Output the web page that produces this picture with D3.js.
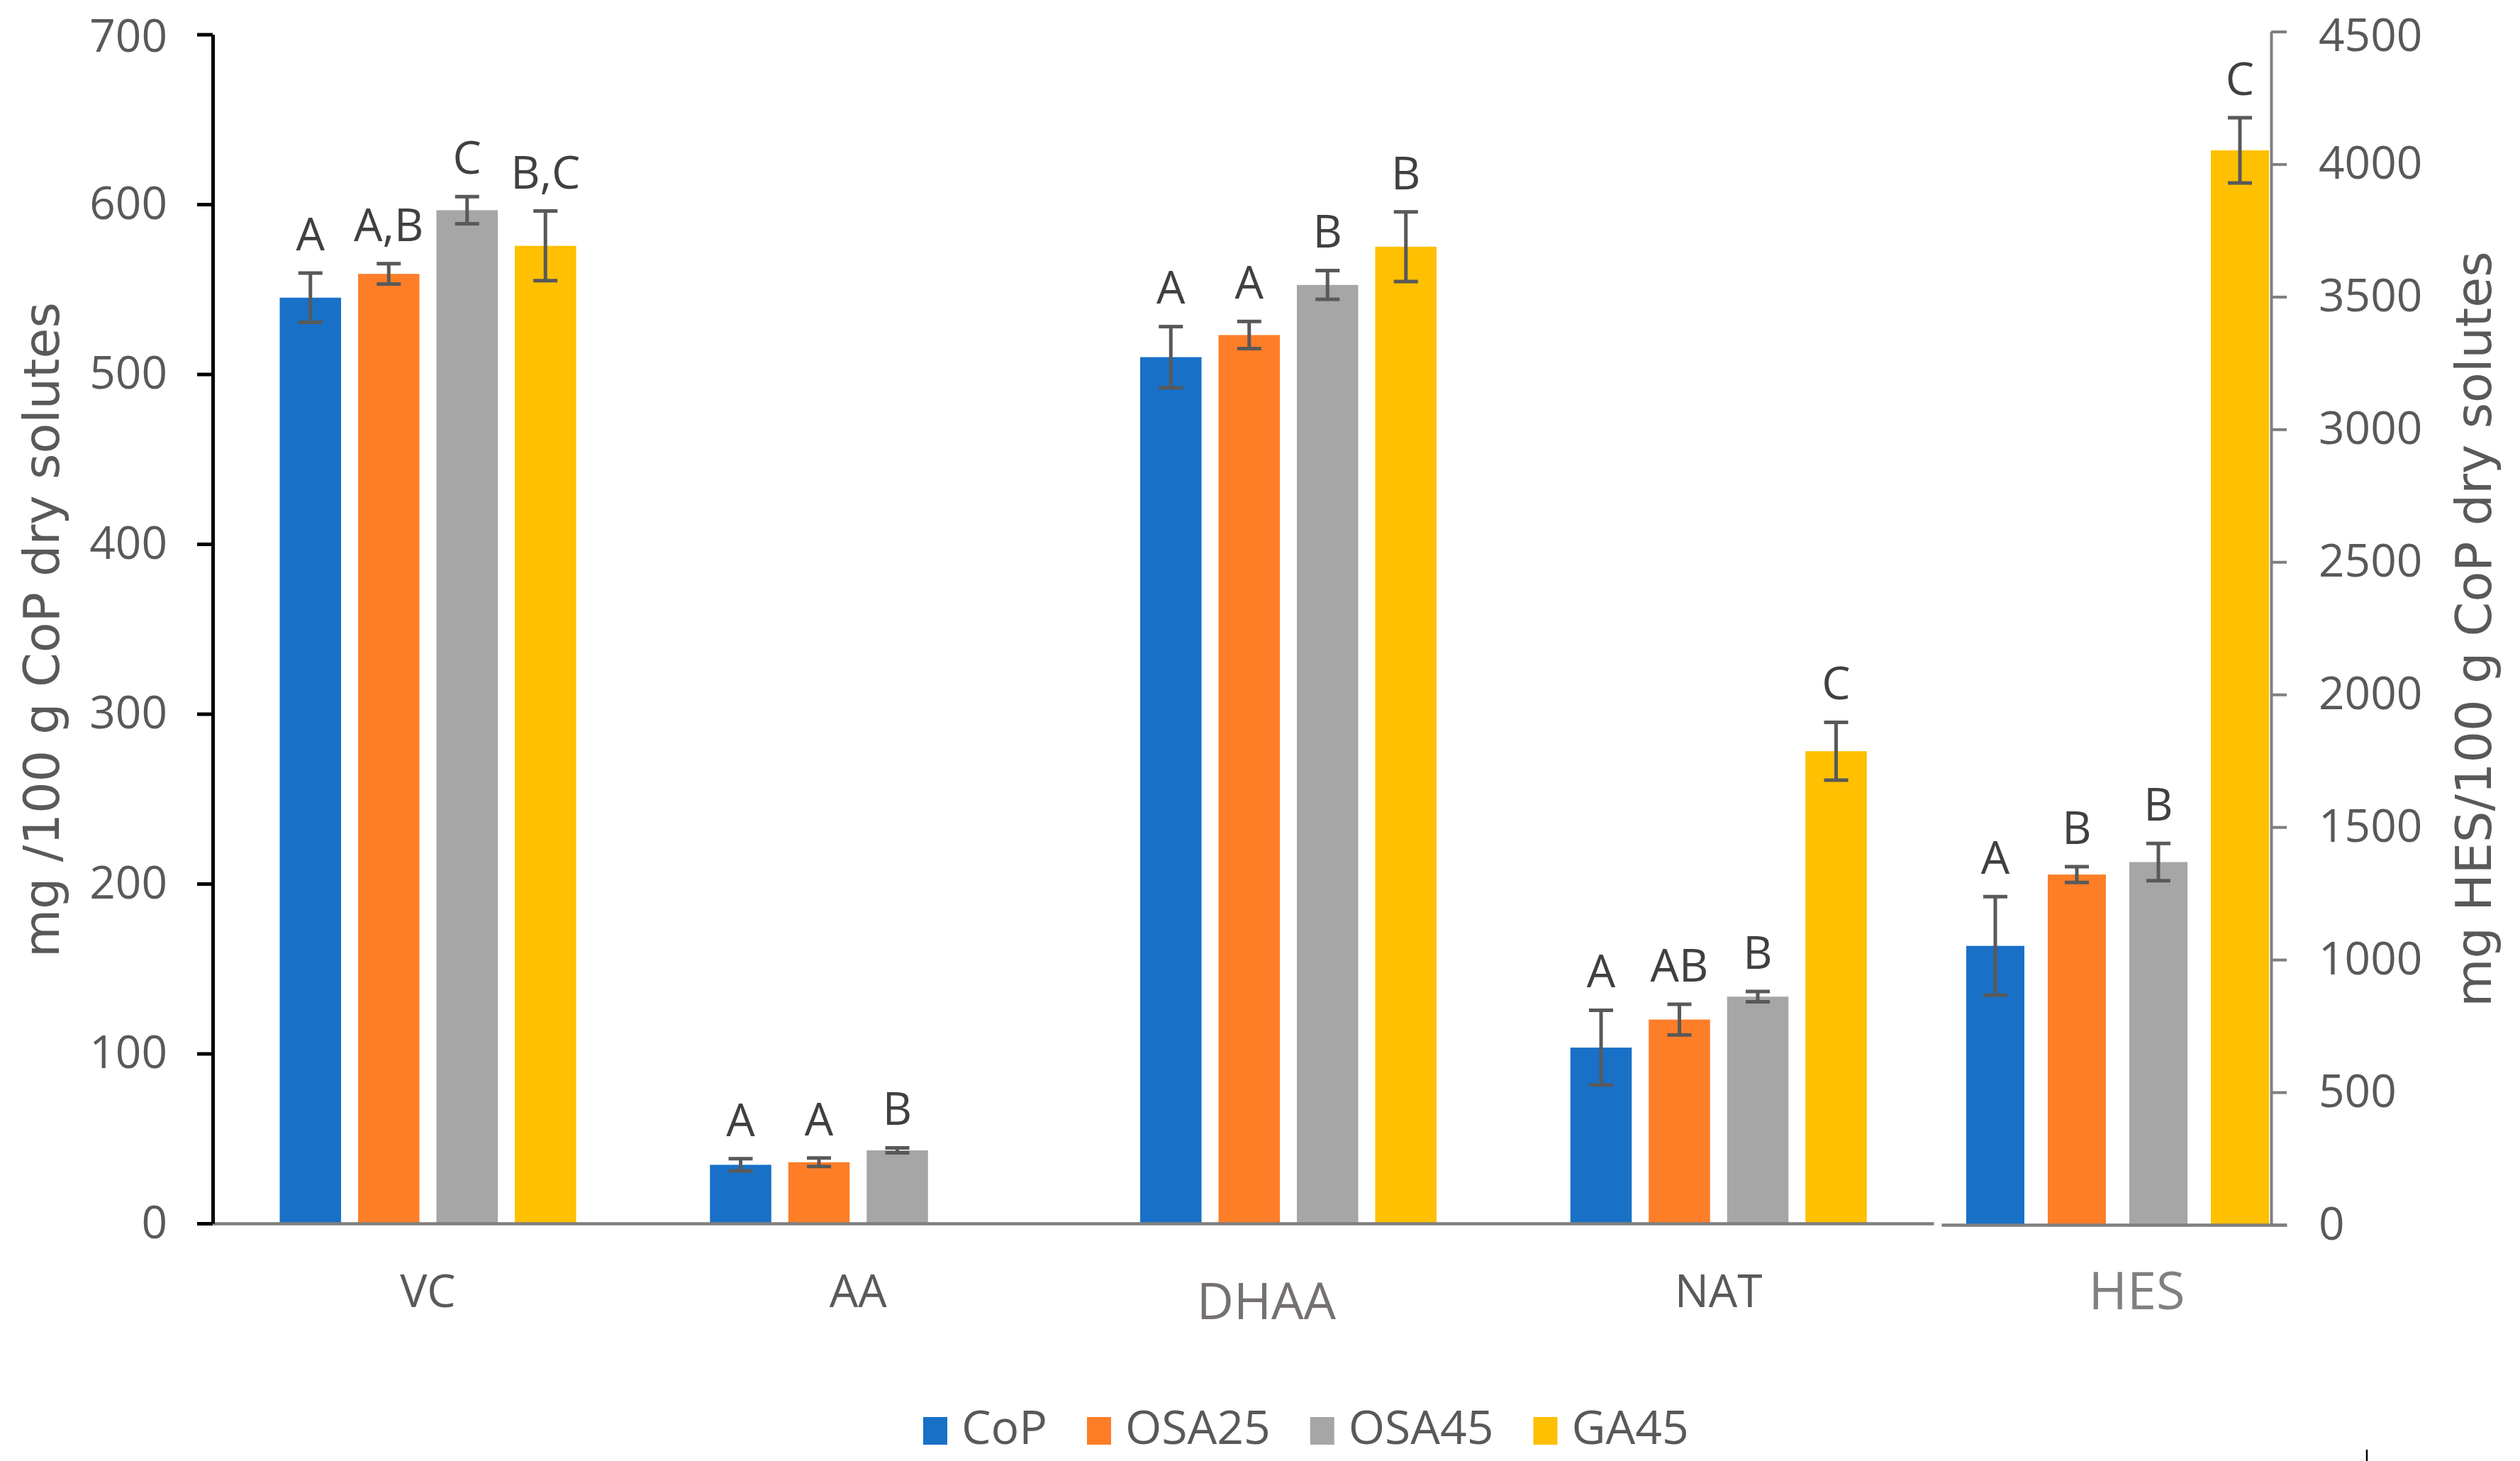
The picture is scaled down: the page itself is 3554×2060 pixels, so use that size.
<!DOCTYPE html>
<html>
<head>
<meta charset="utf-8">
<script src="https://cdn.jsdelivr.net/npm/d3@7"></script>
<style>
  html, body { margin: 0; padding: 0; background: #ffffff; }
  svg { display: block; }
</style>
</head>
<body>
<svg id="chart" width="3554" height="2060"></svg>
<script>
// ---------------- DATA ----------------
const mainCategories = ["VC", "AA", "DHAA", "NAT"];   // left axis (mg /100 g)
const hesCategory = "HES";                           // right axis (mg HES/100 g)
const categories = ["VC", "AA", "DHAA", "NAT", "HES"];
const seriesNames = ["CoP", "OSA25", "OSA45", "GA45"];
const seriesColors = ["#1871C7", "#FE7E28", "#A6A6A6", "#FEC000"];

const copValues   = [545,   34.5, 510,   103.5, 1052];
const osa25Values = [559,   36,   523,   120,   1321];
const osa45Values = [596.5, 43,   552.5, 133.5, 1368];
const ga45Values  = [575.5, null, 575,   278,   4052];

const copErrors   = [14.5, 3.6, 18,   22, 186];
const osa25Errors = [6,    2.5, 8,    9,  30];
const osa45Errors = [8,    1.5, 8.5,  3,  70];
const ga45Errors  = [20.5, null, 20.5, 17, 123];

const copLetters   = ["A",   "A", "A", "A",  "A"];
const osa25Letters = ["A,B", "A", "A", "AB", "B"];
const osa45Letters = ["C",   "B", "B", "B",  "B"];
const ga45Letters  = ["B,C", null, "B", "C", "C"];

const leftTicks  = [0, 100, 200, 300, 400, 500, 600, 700];
const rightTicks = [0, 500, 1000, 1500, 2000, 2500, 3000, 3500, 4000, 4500];

const leftTitle  = "mg /100 g CoP dry solutes";
const rightTitle = "mg HES/100 g CoP dry solutes";

// ---------------- BUILD ----------------
const valuesBySeries  = [copValues, osa25Values, osa45Values, ga45Values];
const errorsBySeries  = [copErrors, osa25Errors, osa45Errors, ga45Errors];
const lettersBySeries = [copLetters, osa25Letters, osa45Letters, ga45Letters];

const records = [];
categories.forEach((cat, ci) => {
  seriesNames.forEach((s, si) => {
    const v = valuesBySeries[si][ci];
    if (v == null) return;
    records.push({
      cat, series: s, si,
      value: v,
      err: errorsBySeries[si][ci],
      letter: lettersBySeries[si][ci],
      right: cat === hesCategory
    });
  });
});

const svg = d3.select("#chart");
const FONT = "'Open Sans', 'Noto Sans', sans-serif";
const TXT = "#595959";

// scales
const yL = d3.scaleLinear().domain([0, 700]).range([1725, 48.5]);
const yR = d3.scaleLinear().domain([0, 4500]).range([1727, 44.5]);
const x0 = d3.scaleBand().domain(mainCategories).range([300, 2727]).paddingInner(0).paddingOuter(0);
const x1 = d3.scaleBand().domain(seriesNames).range([94.5, 512.5]).paddingInner(0.217).paddingOuter(0);
const xH = d3.scaleBand().domain(seriesNames).range([2773, 3200]).paddingInner(0.287).paddingOuter(0);
const color = d3.scaleOrdinal().domain(seriesNames).range(seriesColors);

const barX = d => d.right ? xH(d.series) : x0(d.cat) + x1(d.series);
const barW = d => d.right ? xH.bandwidth() : x1.bandwidth();
const yOf  = d => d.right ? yR : yL;

// bars
svg.append("g").selectAll("rect").data(records).join("rect")
  .attr("x", d => barX(d))
  .attr("width", d => barW(d))
  .attr("y", d => yOf(d)(d.value))
  .attr("height", d => yOf(d)(0) - yOf(d)(d.value))
  .attr("fill", d => color(d.series));

// main x axis (category labels)
const xAxisG = svg.append("g")
  .attr("transform", `translate(0,${yL(0)})`)
  .call(d3.axisBottom(x0).tickSize(0).tickSizeOuter(0).tickPadding(73));
xAxisG.select(".domain").attr("stroke", "#7F7F7F").attr("stroke-width", 4.5);
xAxisG.selectAll(".tick text")
  .attr("font-family", FONT).attr("font-size", 64).attr("fill", TXT)
  .filter(d => d === "DHAA")
  .attr("font-size", 72).attr("fill", "#767171").attr("dx", -31).attr("dy", "0.86em");

// HES x axis
const xHesAxis = d3.scaleBand().domain([hesCategory]).range([2738, 3225]);
const hesAxisG = svg.append("g")
  .attr("transform", `translate(0,${yR(0)})`)
  .call(d3.axisBottom(xHesAxis).tickSize(0).tickSizeOuter(0).tickPadding(66));
hesAxisG.select(".domain").attr("stroke", "#7F7F7F").attr("stroke-width", 4.5);
hesAxisG.selectAll(".tick text")
  .attr("font-family", FONT).attr("font-size", 74).attr("fill", "#808080").attr("dx", 32);

// left y axis
const leftG = svg.append("g")
  .attr("transform", `translate(300,0)`)
  .call(d3.axisLeft(yL).tickValues(leftTicks).tickFormat(d3.format("d"))
    .tickSize(22).tickSizeOuter(0).tickPadding(42));
leftG.select(".domain").attr("stroke", "#000").attr("stroke-width", 5);
leftG.selectAll(".tick line").attr("stroke", "#000").attr("stroke-width", 5);
leftG.selectAll(".tick text").attr("font-family", FONT).attr("font-size", 64).attr("fill", TXT)
  .filter(d => d === 700).attr("dy", "0.38em");

// right y axis
const rightG = svg.append("g")
  .attr("transform", `translate(3203,0)`)
  .call(d3.axisRight(yR).tickValues(rightTicks).tickFormat(d3.format("d"))
    .tickSize(22).tickSizeOuter(0).tickPadding(45));
rightG.select(".domain").attr("stroke", "#7F7F7F").attr("stroke-width", 4);
rightG.selectAll(".tick line").attr("stroke", "#7F7F7F").attr("stroke-width", 4);
rightG.selectAll(".tick text").attr("font-family", FONT).attr("font-size", 64).attr("fill", TXT)
  .filter(d => d === 4500).attr("dy", "0.42em");

// error bars
const errG = svg.append("g").attr("stroke", "#595959").attr("stroke-width", 5).attr("fill", "none");
const capHalf = 17;
records.filter(d => d.err != null).forEach(d => {
  const cx = barX(d) + barW(d) / 2;
  const y = yOf(d);
  const yTop = y(d.value + d.err), yBot = y(d.value - d.err);
  errG.append("line").attr("x1", cx).attr("x2", cx).attr("y1", yTop).attr("y2", yBot);
  errG.append("line").attr("x1", cx - capHalf).attr("x2", cx + capHalf).attr("y1", yTop).attr("y2", yTop);
  errG.append("line").attr("x1", cx - capHalf).attr("x2", cx + capHalf).attr("y1", yBot).attr("y2", yBot);
});

// significance letters
svg.append("g").selectAll("text").data(records.filter(d => d.letter)).join("text")
  .attr("x", d => barX(d) + barW(d) / 2)
  .attr("y", d => yOf(d)(d.value + (d.err || 0)) - 32)
  .attr("text-anchor", "middle")
  .attr("font-family", FONT).attr("font-size", 64).attr("fill", "#404040")
  .text(d => d.letter);

// axis titles
svg.append("text")
  .attr("transform", "translate(83,888) rotate(-90)")
  .attr("text-anchor", "middle")
  .attr("font-family", "'DejaVu Sans', sans-serif").attr("font-size", 70).attr("fill", TXT)
  .text(leftTitle);
svg.append("text")
  .attr("transform", "translate(3513,887) rotate(-90)")
  .attr("text-anchor", "middle")
  .attr("font-family", "'DejaVu Sans', sans-serif").attr("font-size", 70).attr("fill", TXT)
  .text(rightTitle);

// legend
const legend = svg.append("g").attr("transform", "translate(1302,0)");
let lx = 0;
seriesNames.forEach((s, i) => {
  const item = legend.append("g").attr("transform", `translate(${lx},0)`);
  item.append("rect").attr("x", 0).attr("y", 1998).attr("width", 34).attr("height", 39)
    .attr("fill", color(s));
  const t = item.append("text").attr("x", 54).attr("y", 2036)
    .attr("font-family", FONT).attr("font-size", 66).attr("fill", TXT).text(s);
  lx += 54 + t.node().getComputedTextLength() + 56;
});

// small stray tick mark at bottom right of the original figure
svg.append("line").attr("x1", 3338).attr("x2", 3338).attr("y1", 2044).attr("y2", 2064)
  .attr("stroke", "#000").attr("stroke-width", 2.5);
</script>
</body>
</html>
